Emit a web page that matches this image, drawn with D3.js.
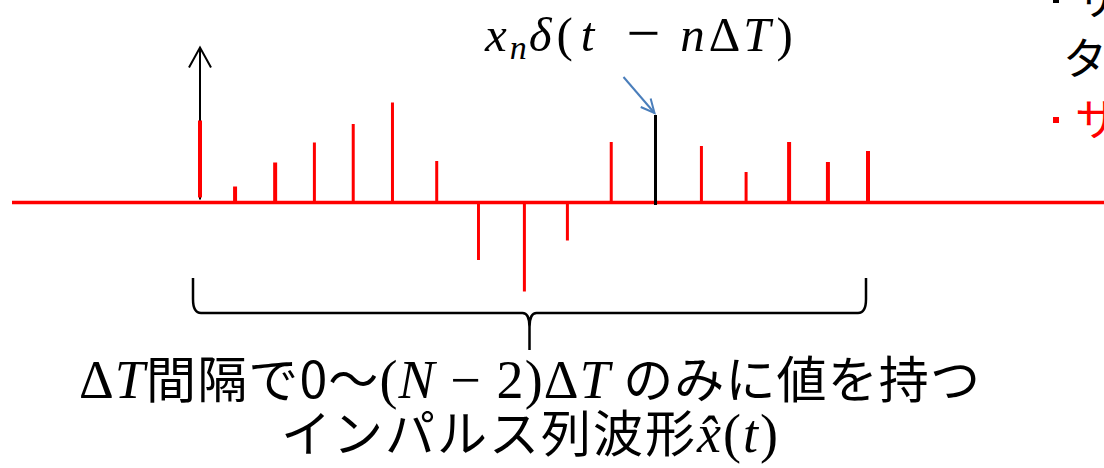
<!DOCTYPE html>
<html>
<head>
<meta charset="utf-8">
<script src="https://cdn.jsdelivr.net/npm/d3@7"></script>
<style>
  html, body { margin: 0; padding: 0; background: #fff; }
  svg { display: block; }
</style>
</head>
<body>
<svg id="chart" width="1104" height="468"></svg>
<script>
// ---- data ----
// sample times in units of ΔT (hand-drawn spacing)
const sampleTimes = [0, 0.84, 1.80, 2.74, 3.67, 4.61, 5.67, 6.67, 7.77, 8.80, 9.85, 10.91, 12.01, 13.08, 14.11, 15.04, 16];
// sample values x_n (arbitrary amplitude units)
const sampleValues = [8.2, 1.6, 4.0, 6.0, 7.85, 10.0, 4.15, -5.75, -8.9, -3.8, 6.05, 8.75, 5.65, 3.05, 6.05, 4.05, 5.15];
const highlightIndex = 11;          // the stem labelled x_n δ(t − nΔT)
const deltaArrowHeight = 15.5;      // height of the unit impulse arrow at t = 0
const tDomain = [0, 16];
const yDomain = [-10, 10];
const legendLines = ["サンプリングデー", "タ"];
const legendLine2 = "サンプル値";

const svg = d3.select("#chart");
const x = d3.scaleLinear().domain(tDomain).range([200, 868]);
const y = d3.scaleLinear().domain(yDomain).range([302.5, 102.5]);

const RED = "#ff0000";
const MATH = "'Liberation Serif', 'DejaVu Serif', serif";
const JP = "'Noto Sans CJK JP', 'Noto Sans', sans-serif";

// unit impulse arrow at t = 0 (black)
const ax = x(sampleTimes[0]);
svg.append("line")
  .attr("x1", ax).attr("x2", ax)
  .attr("y1", y(0) - 3).attr("y2", y(deltaArrowHeight))
  .attr("stroke", "#000").attr("stroke-width", 2);
svg.append("path")
  .attr("d", `M${ax - 11},${y(deltaArrowHeight) + 20} L${ax},${y(deltaArrowHeight)} L${ax + 11},${y(deltaArrowHeight) + 20}`)
  .attr("fill", "none").attr("stroke", "#000").attr("stroke-width", 2);

// horizontal time axis
svg.append("line")
  .attr("x1", 12).attr("x2", 1104)
  .attr("y1", y(0)).attr("y2", y(0))
  .attr("stroke", RED).attr("stroke-width", 3.5);

// stems
const stems = sampleTimes.map((t, i) => ({ t, v: sampleValues[i], i }));
svg.append("g").selectAll("line")
  .data(stems.filter(d => d.i !== highlightIndex))
  .join("line")
  .attr("x1", d => x(d.t)).attr("x2", d => x(d.t))
  .attr("y1", d => d.i === 0 ? y(0) - 5 : y(0))
  .attr("y2", d => y(d.v))
  .attr("stroke", RED)
  .attr("stroke-width", d => (d.i <= 2 || d.i >= 14) ? 4 : 3);

// highlighted stem (black)
const hs = stems[highlightIndex];
svg.append("line")
  .attr("x1", x(hs.t)).attr("x2", x(hs.t))
  .attr("y1", y(0) + 2.5).attr("y2", y(hs.v))
  .attr("stroke", "#000").attr("stroke-width", 3);

// blue pointer arrow
const tipX = x(hs.t) - 1, tipY = y(hs.v) - 2;
const sx = tipX - 31, sy = tipY - 36;
const ang = Math.atan2(tipY - sy, tipX - sx);
const wing = 15, spread = 0.45;
svg.append("line")
  .attr("x1", sx).attr("y1", sy).attr("x2", tipX).attr("y2", tipY)
  .attr("stroke", "#4a7ebb").attr("stroke-width", 2);
svg.append("path")
  .attr("d", `M${tipX - wing * Math.cos(ang - spread)},${tipY - wing * Math.sin(ang - spread)} L${tipX},${tipY} L${tipX - wing * Math.cos(ang + spread)},${tipY - wing * Math.sin(ang + spread)}`)
  .attr("fill", "none").attr("stroke", "#4a7ebb").attr("stroke-width", 2);

// formula label
const f = svg.append("text")
  .attr("x", 485).attr("y", 51)
  .attr("font-family", MATH).attr("font-size", 49).attr("fill", "#000");
f.append("tspan").attr("font-style", "italic").text("x");
f.append("tspan").attr("font-style", "italic").attr("font-size", 34).attr("dx", 3).attr("dy", 8).text("n");
f.append("tspan").attr("font-style", "italic").attr("dx", 2).attr("dy", -8).text("δ");
f.append("tspan").attr("dx", 5).text("(");
f.append("tspan").attr("font-style", "italic").attr("dx", 8).text("t");
f.append("tspan").attr("font-size", 60).attr("dx", 32).attr("dy", 2).text("−");
f.append("tspan").attr("font-style", "italic").attr("dx", 20).attr("dy", -2).text("n");
f.append("tspan").attr("dx", 4).text("Δ");
f.append("tspan").attr("font-style", "italic").attr("dx", 3).text("T");
f.append("tspan").attr("dx", 6).text(")");

// brace under the stems
const bx0 = x(sampleTimes[0]) - 7;
const bx1 = x(sampleTimes[sampleTimes.length - 1]) - 2;
const bm = (bx0 + bx1) / 2;
const bTop = 278, bMid = 313, bTip = 350;
const bp = d3.path();
bp.moveTo(bx0, bTop); bp.lineTo(bx0, bMid - 14);
bp.quadraticCurveTo(bx0, bMid, bx0 + 8, bMid);
bp.lineTo(bm - 7, bMid);
bp.quadraticCurveTo(bm, bMid, bm, bMid + 14);
bp.lineTo(bm, bTip);
bp.moveTo(bm, bMid + 14);
bp.quadraticCurveTo(bm, bMid, bm + 7, bMid);
bp.lineTo(bx1 - 8, bMid);
bp.quadraticCurveTo(bx1, bMid, bx1, bMid - 14);
bp.lineTo(bx1, bTop);
svg.append("path").attr("d", bp.toString())
  .attr("fill", "none").attr("stroke", "#000").attr("stroke-width", 2.5);

// caption
const MS = 54;
const c1 = svg.append("text")
  .attr("x", bm).attr("y", 398).attr("text-anchor", "middle")
  .attr("font-family", JP).attr("font-size", 50).attr("fill", "#000")
  .attr("textLength", 901).attr("lengthAdjust", "spacing");
c1.append("tspan").attr("font-family", MATH).attr("font-size", MS).text("Δ");
c1.append("tspan").attr("font-family", MATH).attr("font-size", MS).attr("font-style", "italic").text("T");
c1.append("tspan").text("間隔で0〜");
c1.append("tspan").attr("font-family", MATH).attr("font-size", MS).text("(");
c1.append("tspan").attr("font-family", MATH).attr("font-size", MS).attr("font-style", "italic").text("N");
c1.append("tspan").attr("font-family", MATH).attr("font-size", MS).text(" − 2)Δ");
c1.append("tspan").attr("font-family", MATH).attr("font-size", MS).attr("font-style", "italic").text("T");
c1.append("tspan").text(" のみに値を持つ");

const c2 = svg.append("text")
  .attr("x", bm).attr("y", 452).attr("text-anchor", "middle")
  .attr("font-family", JP).attr("font-size", 50).attr("fill", "#000")
  .attr("textLength", 497).attr("lengthAdjust", "spacing");
c2.append("tspan").text("インパルス列波形");
c2.append("tspan").attr("font-family", MATH).attr("font-size", MS).attr("font-style", "italic").text("x\u0302");
c2.append("tspan").attr("font-family", MATH).attr("font-size", MS).text("(");
c2.append("tspan").attr("font-family", MATH).attr("font-size", MS).attr("font-style", "italic").text("t");
c2.append("tspan").attr("font-family", MATH).attr("font-size", MS).text(")");

// clipped legend at the right edge
svg.append("rect").attr("x", 1053).attr("y", -3).attr("width", 6).attr("height", 6).attr("fill", "#000");
svg.append("text").attr("x", 1075).attr("y", 15)
  .attr("font-family", JP).attr("font-size", 44).attr("fill", "#000").text(legendLines[0]);
svg.append("text").attr("x", 1063).attr("y", 75)
  .attr("font-family", JP).attr("font-size", 44).attr("fill", "#000").text(legendLines[1]);
svg.append("rect").attr("x", 1053).attr("y", 117).attr("width", 6).attr("height", 6).attr("fill", RED);
svg.append("text").attr("x", 1075).attr("y", 136)
  .attr("font-family", JP).attr("font-size", 44).attr("fill", RED).text(legendLine2);
</script>
</body>
</html>
